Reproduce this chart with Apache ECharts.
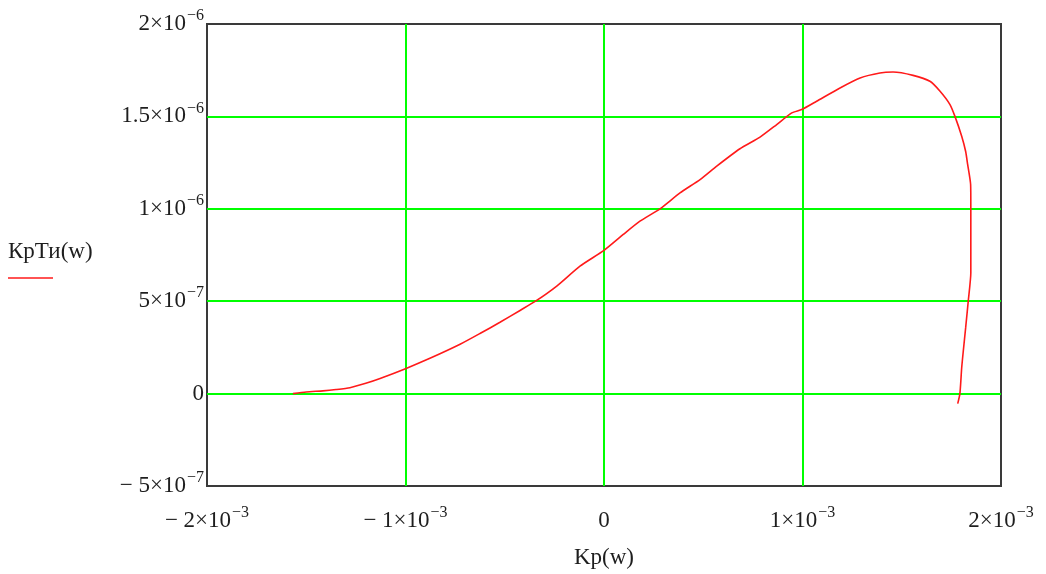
<!DOCTYPE html>
<html>
<head>
<meta charset="utf-8">
<script src="https://cdn.jsdelivr.net/npm/echarts@6/dist/echarts.min.js"></script>
<style>html,body{margin:0;padding:0;background:#fff;}#c{width:1046px;height:574px;}</style>
</head>
<body>
<div id="c"></div>
<script>
// Curve data: Kp(w) (x) and KpTи(w) (y)
const kp = [-1.567e-3, -1.5e-3, -1.416e-3, -1.35e-3, -1.28e-3, -1.2e-3, -1.128e-3, -1.0e-3, -0.877e-3, -0.725e-3, -0.625e-3, -0.524e-3, -0.423e-3, -0.345e-3, -0.238e-3, -0.121e-3, 0, 0.097e-3, 0.181e-3, 0.282e-3, 0.383e-3, 0.484e-3, 0.568e-3, 0.685e-3, 0.786e-3, 0.87e-3, 0.946e-3, 0.996e-3, 1.071e-3, 1.189e-3, 1.29e-3, 1.39e-3, 1.456e-3, 1.557e-3, 1.642e-3, 1.693e-3, 1.743e-3, 1.768e-3, 1.802e-3, 1.822e-3, 1.832e-3, 1.847e-3, 1.848e-3, 1.848e-3, 1.835e-3, 1.822e-3, 1.81e-3, 1.802e-3, 1.793e-3, 1.782e-3];
const kpTi = [0, 0.9e-8, 1.5e-8, 2.2e-8, 3.2e-8, 5.6e-8, 8.2e-8, 1.35e-7, 1.91e-7, 2.67e-7, 3.25e-7, 3.86e-7, 4.5e-7, 5.0e-7, 5.82e-7, 6.9e-7, 7.75e-7, 8.61e-7, 9.33e-7, 1.0e-6, 1.086e-6, 1.158e-6, 1.231e-6, 1.325e-6, 1.388e-6, 1.456e-6, 1.519e-6, 1.537e-6, 1.582e-6, 1.654e-6, 1.708e-6, 1.735e-6, 1.740e-6, 1.722e-6, 1.69e-6, 1.636e-6, 1.564e-6, 1.5e-6, 1.393e-6, 1.31e-6, 1.24e-6, 1.131e-6, 1.0e-6, 6.54e-7, 5.0e-7, 3.57e-7, 2.3e-7, 1.4e-7, 0, -5.4e-8];

// Tick labels: [base, superscript]
const xTickLabels = [['− 2×10', '−3'], ['− 1×10', '−3'], ['0', ''], ['1×10', '−3'], ['2×10', '−3']];
const yTickLabels = [['− 5×10', '−7'], ['0', ''], ['5×10', '−7'], ['1×10', '−6'], ['1.5×10', '−6'], ['2×10', '−6']];

const xName = 'Kp(w)';
const yName = 'КрТи(w)';

const FONT = '"Liberation Serif", "DejaVu Serif", serif';
const TXT = '#1e1e1e';

function fmt(labels) {
  return function (value, index) {
    const l = labels[index];
    if (!l) return '';
    return l[1] ? '{b|' + l[0] + '}{s|' + l[1] + '}' : '{b|' + l[0] + '}';
  };
}
const rich = {
  b: { fontFamily: FONT, fontSize: 23, color: TXT, lineHeight: 32 },
  s: { fontFamily: FONT, fontSize: 16, color: TXT, verticalAlign: 'top', lineHeight: 32, padding: [0, 0, 15, 1] }
};

const data = kp.map((x, i) => [x, kpTi[i]]);

const chart = echarts.init(document.getElementById('c'));
chart.setOption({
  animation: false,
  backgroundColor: '#fff',
  grid: { left: 207, right: 45, top: 24, bottom: 86, show: true, borderColor: '#3a3a3a', borderWidth: 2, backgroundColor: 'transparent' },
  xAxis: {
    type: 'value', min: -2e-3, max: 2e-3, interval: 1e-3,
    name: xName, nameLocation: 'middle', nameGap: 60,
    nameTextStyle: { fontFamily: FONT, fontSize: 23, color: TXT },
    axisLine: { show: false }, axisTick: { show: false },
    axisLabel: { margin: 19, formatter: fmt(xTickLabels), rich: rich },
    splitLine: { show: true, showMinLine: false, showMaxLine: false, lineStyle: { color: '#00ff00', width: 2 } }
  },
  yAxis: {
    type: 'value', min: -5e-7, max: 2e-6, interval: 5e-7,
    axisLine: { show: false }, axisTick: { show: false },
    axisLabel: { margin: 3, formatter: fmt(yTickLabels), rich: rich },
    splitLine: { show: true, showMinLine: false, showMaxLine: false, lineStyle: { color: '#00ff00', width: 2 } }
  },
  series: [{
    type: 'line', data: data, showSymbol: false, smooth: 0.2,
    lineStyle: { color: '#ff1a1a', width: 1.6 }, z: 5
  }],
  graphic: [
    { type: 'text', left: 8, top: 240, style: { text: yName, font: '23px ' + FONT, fill: TXT } },
    { type: 'line', shape: { x1: 8, y1: 278, x2: 53, y2: 278 }, style: { stroke: '#ff1a1a', lineWidth: 1.6 } }
  ]
});
</script>
</body>
</html>
